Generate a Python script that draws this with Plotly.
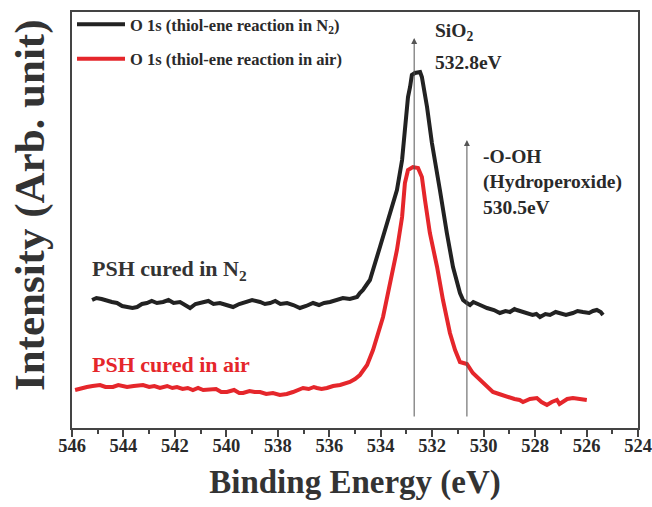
import plotly.graph_objects as go

# O 1s spectrum, thiol-ene reaction in N2 (binding energy eV, intensity a.u.)
n2_energy = [545.22, 545.05, 544.85, 544.65, 544.45, 544.25, 544.05, 543.85, 543.65, 543.47,
             543.28, 543.09, 542.90, 542.70, 542.46, 542.25, 542.05, 541.80, 541.60, 541.41,
             541.20, 540.91, 540.70, 540.50, 540.25, 540.00, 539.74, 539.50, 539.20, 539.00,
             538.69, 538.50, 538.30, 538.10, 537.90, 537.64, 537.40, 537.14, 536.90, 536.63,
             536.40, 536.20, 535.97, 535.75, 535.47, 535.20, 534.92,
             534.81, 534.69, 534.53, 534.42, 534.03, 533.64, 533.37, 533.17, 533.06, 532.94,
             532.86, 532.79, 532.67, 532.47, 532.40, 532.20, 532.01, 531.89, 531.70, 531.43,
             531.19, 530.92, 530.80, 530.65, 530.53, 530.40, 530.26, 530.05, 529.87, 529.60,
             529.37, 529.15, 528.98, 528.80, 528.71, 528.50, 528.32, 528.10, 527.95, 527.81,
             527.60, 527.42, 527.20, 527.03, 526.80, 526.53, 526.35, 526.14, 525.90, 525.75,
             525.60, 525.45, 525.36]
n2_intensity = [130, 132, 131, 129, 128, 127, 124, 123, 122, 123,
                126, 127, 129, 127, 128, 130, 127, 128, 125, 122,
                126, 128, 129, 126, 127, 125, 123, 126, 128, 130,
                128, 126, 127, 129, 126, 127, 125, 122, 124, 127,
                125, 127, 128, 130, 132, 131, 133,
                137, 140, 146, 150, 183, 217, 240, 270, 303, 333,
                343, 355, 357, 358, 353, 323, 287, 270, 240, 197,
                163, 137, 130, 127, 125, 128, 126, 124, 122, 120,
                117, 119, 118, 121, 120, 118, 117, 115, 116, 113,
                116, 115, 118, 117, 115, 117, 119, 118, 117, 119,
                120, 118, 115]

# O 1s spectrum, thiol-ene reaction in air
air_energy = [545.88, 545.65, 545.42, 545.20, 544.91, 544.70, 544.41, 544.20, 543.86, 543.60,
              543.24, 543.00, 542.80, 542.58, 542.30, 542.10, 541.92, 541.70, 541.50, 541.30,
              541.10, 540.90, 540.64, 540.40, 540.20, 539.98, 539.70, 539.50, 539.35, 539.10,
              538.90, 538.69, 538.45, 538.19, 537.92, 537.65, 537.41, 537.20, 537.02, 536.80,
              536.60, 536.48, 536.30, 536.09, 535.85, 535.58, 535.40, 535.20, 535.00, 534.81,
              534.53, 534.30, 533.91, 533.64, 533.37, 533.17, 533.06, 532.94,
              532.75, 532.55, 532.40, 532.28, 532.09, 531.81, 531.58, 531.31, 531.11, 530.92,
              530.65, 530.42, 530.20, 530.03, 529.85, 529.64, 529.40, 529.09, 528.80, 528.60,
              528.47, 528.20, 527.93, 527.75, 527.54, 527.35, 527.15, 527.05, 526.92, 526.75,
              526.53, 526.30, 526.10, 525.99]
air_intensity = [40, 42, 43, 44, 45, 43, 43, 45, 43, 44,
                 45, 43, 44, 42, 44, 42, 43, 41, 42, 40,
                 42, 40, 40, 41, 38, 38, 40, 37, 37, 39,
                 38, 38, 36, 37, 35, 36, 38, 40, 42, 41,
                 43, 42, 41, 42, 44, 45, 46, 48, 51, 55,
                 65, 80, 113, 147, 180, 213, 247, 260,
                 263, 262, 253, 230, 197, 163, 130, 97, 80, 68,
                 66, 57, 52, 48, 44, 38, 36, 33, 31, 30,
                 28, 31, 32, 28, 25, 28, 30, 26, 28, 31,
                 32, 31, 31, 30]

x_ticks = [546, 544, 542, 540, 538, 536, 534, 532, 530, 528, 526, 524]

# reference peak markers
peak_pos = [532.7, 530.65]
peak_top = [392, 290]
peak_base = 12

FONT = "Liberation Serif"
TXT = "#2a2a2a"
BLACK = "#222222"
RED = "#e5262b"

fig = go.Figure()
fig.add_trace(go.Scatter(x=n2_energy, y=n2_intensity, mode="lines",
                         line=dict(color=BLACK, width=4),
                         name="<b>O 1s (thiol-ene reaction in N<sub>2</sub>)</b>",
                         legendgroup="a"))
fig.add_trace(go.Scatter(x=air_energy, y=air_intensity, mode="lines",
                         line=dict(color=RED, width=4),
                         name="<b>O 1s (thiol-ene reaction in air)</b>",
                         legendgroup="b"))

for xp, yt in zip(peak_pos, peak_top):
    fig.add_annotation(x=xp, y=yt, ax=xp, ay=peak_base, xref="x", yref="y",
                       axref="x", ayref="y", showarrow=True, arrowhead=2,
                       arrowsize=1.2, arrowwidth=1, arrowcolor="#555555", text="")

ann_font = dict(family=FONT, size=19.5, color=TXT)
fig.add_annotation(x=531.97, y=398, xref="x", yref="y", xanchor="left", yanchor="middle",
                   text="<b>SiO<sub>2</sub></b>", showarrow=False, font=ann_font)
fig.add_annotation(x=531.97, y=368, xref="x", yref="y", xanchor="left", yanchor="middle",
                   text="<b>532.8eV</b>", showarrow=False, font=ann_font)
fig.add_annotation(x=530.10, y=248, xref="x", yref="y", xanchor="left", yanchor="middle",
                   text="<b>-O-OH<br>(Hydroperoxide)<br>530.5eV</b>", showarrow=False,
                   align="left", font=ann_font)
fig.add_annotation(x=545.30, y=160, xref="x", yref="y", xanchor="left", yanchor="middle",
                   text="<b>PSH cured in N<sub>2</sub></b>", showarrow=False,
                   font=dict(family=FONT, size=22, color="#333333"))
fig.add_annotation(x=545.30, y=66, xref="x", yref="y", xanchor="left", yanchor="middle",
                   text="<b>PSH cured in air</b>", showarrow=False,
                   font=dict(family=FONT, size=22, color=RED))
# y-axis title (placed slightly below the plot centre, as in the original)
fig.add_annotation(x=0, y=0.536, xref="paper", yref="paper", xshift=-42,
                   xanchor="center", yanchor="middle", textangle=-90,
                   text="<b>Intensity (Arb. unit)</b>", showarrow=False,
                   font=dict(family=FONT, size=43, color="#333"))

fig.update_layout(
    width=652, height=507,
    margin=dict(l=72, r=14, t=12, b=79, autoexpand=False),
    plot_bgcolor="white", paper_bgcolor="white",
    font=dict(family=FONT, color=TXT),
    showlegend=True,
    legend=dict(x=0.0, y=0.986, xref="paper", yref="container",
                xanchor="left", yanchor="top",
                bgcolor="rgba(0,0,0,0)", font=dict(family=FONT, size=16.5, color=TXT),
                itemwidth=48, traceorder="grouped", tracegroupgap=10),
    xaxis=dict(range=[546, 524], tickvals=x_ticks,
               ticktext=[f"<b>{v}</b>" for v in x_ticks],
               ticks="outside", ticklen=7, tickwidth=1.5, tickcolor="#444",
               ticklabelstandoff=-7,
               minor=dict(dtick=1, ticks="outside", ticklen=4, tickcolor="#444"),
               showline=True, linecolor="#444", linewidth=1.5, mirror=True,
               showgrid=False, zeroline=False, automargin=False,
               tickfont=dict(family=FONT, size=18.5, color=TXT),
               title=dict(text="<b>Binding Energy (eV)</b>",
                          font=dict(family=FONT, size=33, color="#333"))),
    yaxis=dict(range=[2, 418], showticklabels=False, ticks="",
               showline=True, linecolor="#444", linewidth=1.5, mirror=True,
               showgrid=False, zeroline=False, automargin=False),
    yaxis2=dict(range=[2, 418], overlaying="y", side="right", showticklabels=False,
                ticks="inside", ticklen=5, tickcolor="#444", tick0=38, dtick=68,
                showline=False, showgrid=False, zeroline=False),
)

fig.write_html("out.html",
               config={"displayModeBar": False},
               post_script="document.body.style.margin='0';"
                           "document.body.style.overflow='hidden';")
